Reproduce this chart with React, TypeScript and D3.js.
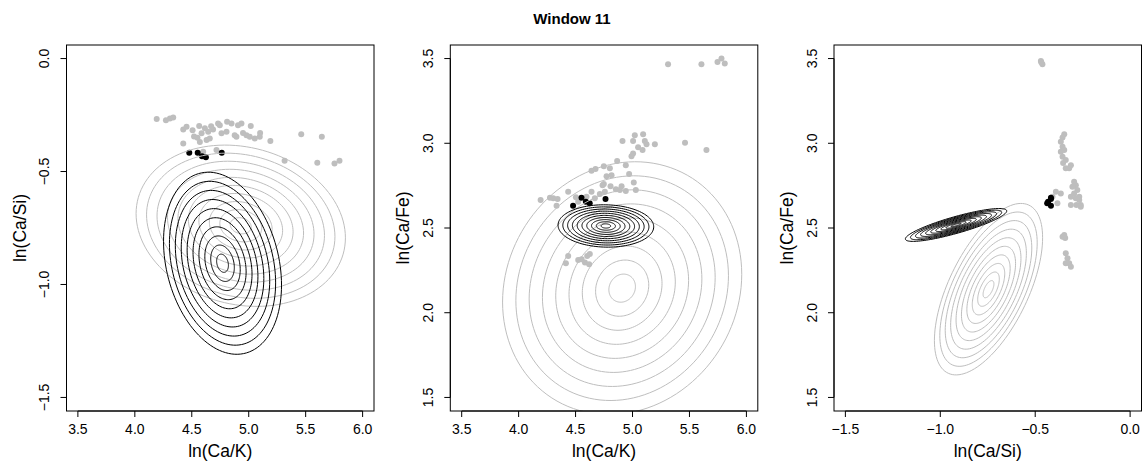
import React from "react";
import * as d3 from "d3";

// ---------- DATA ----------
const title = "Window 11";

// limits before R's 4% expansion
const limK = [3.5, 6.0];
const limSi = [-1.5, 0.0];
const limFe = [1.5, 3.5];

const ticksK = [3.5, 4.0, 4.5, 5.0, 5.5, 6.0];
const ticksSi = [-1.5, -1.0, -0.5, 0.0];
const ticksFe = [1.5, 2.0, 2.5, 3.0, 3.5];

// black (current window) observations
const blackK = [4.478, 4.552, 4.59, 4.624, 4.763];
const blackSi = [-0.417, -0.417, -0.432, -0.437, -0.417];
const blackFe = [2.631, 2.679, 2.655, 2.646, 2.671];

// grey observations, panel 1: ln(Ca/K) vs ln(Ca/Si)
const grayKSi: [number, number][] = [
  [4.192, -0.268], [4.273, -0.273], [4.308, -0.265], [4.337, -0.261], [4.425, -0.314],
  [4.454, -0.302], [4.507, -0.317], [4.565, -0.299], [4.615, -0.309], [4.586, -0.331],
  [4.644, -0.324], [4.658, -0.354], [4.63, -0.361], [4.571, -0.369], [4.425, -0.376],
  [4.687, -0.314], [4.731, -0.287], [4.746, -0.295], [4.761, -0.331], [4.81, -0.28],
  [4.805, -0.324], [4.849, -0.287], [4.877, -0.339], [4.906, -0.295], [4.936, -0.287],
  [4.892, -0.346], [4.98, -0.339], [5.009, -0.346], [5.018, -0.299], [5.053, -0.354],
  [5.097, -0.346], [5.19, -0.365], [4.717, -0.405], [4.6, -0.413], [5.315, -0.452],
  [5.461, -0.335], [5.642, -0.346], [5.602, -0.461], [5.753, -0.464], [5.797, -0.452],
  [4.52, -0.345], [4.67, -0.3], [4.95, -0.33], [5.1, -0.33], [4.55, -0.35],
];

// grey observations, panel 2: ln(Ca/K) vs ln(Ca/Fe)
const grayKFe: [number, number][] = [
  [5.312, 3.466], [5.605, 3.466], [5.746, 3.48], [5.781, 3.5], [5.81, 3.471],
  [4.912, 3.014], [5.02, 3.048], [5.093, 3.054], [5.005, 3.014], [5.108, 3.014],
  [5.123, 2.995], [5.196, 2.995], [5.049, 2.976], [5.088, 2.96], [5.005, 2.94],
  [4.991, 2.924], [5.461, 3.003], [5.649, 2.96], [4.865, 2.895], [4.941, 2.871],
  [4.64, 2.838], [4.675, 2.848], [4.748, 2.865], [4.801, 2.852], [4.97, 2.818],
  [4.772, 2.806], [4.816, 2.812], [5.011, 2.769], [4.737, 2.753], [4.748, 2.759],
  [4.807, 2.747], [4.904, 2.747], [4.854, 2.728], [4.889, 2.724], [4.941, 2.718],
  [5.029, 2.724], [4.435, 2.714], [4.193, 2.665], [4.275, 2.679], [4.304, 2.675],
  [4.342, 2.671], [4.333, 2.631], [4.503, 2.681], [4.596, 2.684], [4.64, 2.714],
  [4.669, 2.675], [4.713, 2.7], [4.757, 2.714], [4.523, 2.655], [4.435, 2.335],
  [4.415, 2.292], [4.523, 2.311], [4.553, 2.316], [4.602, 2.335], [4.625, 2.347],
  [4.582, 2.296], [4.619, 2.286],
];

// grey observations, panel 3: ln(Ca/Si) vs ln(Ca/Fe)
const graySiFe: [number, number][] = [
  [-0.47, 3.486], [-0.462, 3.466], [-0.468, 3.478], [-0.347, 3.054], [-0.356, 3.034],
  [-0.365, 3.009], [-0.356, 2.979], [-0.365, 2.95], [-0.347, 2.96], [-0.356, 2.92],
  [-0.339, 2.901], [-0.312, 2.871], [-0.321, 2.852], [-0.339, 2.852], [-0.353, 2.883],
  [-0.295, 2.773], [-0.286, 2.753], [-0.304, 2.743], [-0.278, 2.724], [-0.295, 2.704],
  [-0.268, 2.684], [-0.286, 2.675], [-0.312, 2.684], [-0.312, 2.636], [-0.283, 2.636],
  [-0.26, 2.636], [-0.409, 2.684], [-0.391, 2.714], [-0.365, 2.704], [-0.383, 2.646],
  [-0.347, 2.459], [-0.356, 2.449], [-0.342, 2.441], [-0.339, 2.351], [-0.33, 2.321],
  [-0.321, 2.292], [-0.339, 2.292], [-0.312, 2.272], [-0.268, 2.665], [-0.26, 2.625],
];

// contour ellipses: centre, outer half-extents (x, y), correlation, number of rings
type Ell = { cx: number; cy: number; sx: number; sy: number; rho: number; n: number };
const ellGrayKSi: Ell = { cx: 4.93, cy: -0.74, sx: 0.919, sy: 0.357, rho: -0.15, n: 10 };
const ellBlackKSi: Ell = { cx: 4.77, cy: -0.906, sx: 0.518, sy: 0.403, rho: -0.24, n: 10 };
const ellGrayKFe: Ell = { cx: 4.909, cy: 2.145, sx: 1.05, sy: 0.746, rho: 0.11, n: 9 };
const ellBlackKFe: Ell = { cx: 4.766, cy: 2.512, sx: 0.42, sy: 0.125, rho: -0.04, n: 10 };
const ellGraySiFe: Ell = { cx: -0.746, cy: 2.139, sx: 0.285, sy: 0.506, rho: 0.6, n: 10 };
const ellBlackSiFe: Ell = { cx: -0.917, cy: 2.518, sx: 0.267, sy: 0.097, rho: 0.85, n: 10 };

// ---------- LAYOUT ----------
const W = 1144;
const H = 461;
const PTOP = 45;
const PH = 366;
const PW = 307.5;
const lefts = [66.5, 450.3, 834];
const FONT = "'Liberation Sans', Arial, Helvetica, sans-serif";
const GRAY = "#bebebe";

const expand = (l: number[]) => {
  const r = l[1] - l[0];
  return [l[0] - 0.04 * r, l[1] + 0.04 * r];
};
const fmt = (v: number) => d3.format(".1f")(v).replace("-", "\u2212");

type PanelDef = {
  left: number;
  xlim: number[];
  ylim: number[];
  xticks: number[];
  yticks: number[];
  xlab: string;
  ylab: string;
  gray: [number, number][];
  bx: number[];
  by: number[];
  eg: Ell;
  eb: Ell;
};

const panels: PanelDef[] = [
  { left: lefts[0], xlim: limK, ylim: limSi, xticks: ticksK, yticks: ticksSi, xlab: "ln(Ca/K)", ylab: "ln(Ca/Si)",
    gray: grayKSi, bx: blackK, by: blackSi, eg: ellGrayKSi, eb: ellBlackKSi },
  { left: lefts[1], xlim: limK, ylim: limFe, xticks: ticksK, yticks: ticksFe, xlab: "ln(Ca/K)", ylab: "ln(Ca/Fe)",
    gray: grayKFe, bx: blackK, by: blackFe, eg: ellGrayKFe, eb: ellBlackKFe },
  { left: lefts[2], xlim: limSi, ylim: limFe, xticks: ticksSi, yticks: ticksFe, xlab: "ln(Ca/Si)", ylab: "ln(Ca/Fe)",
    gray: graySiFe, bx: blackSi, by: blackFe, eg: ellGraySiFe, eb: ellBlackSiFe },
];

const angles = d3.range(0, 360, 3).map((d) => (d * Math.PI) / 180);

function ringPaths(e: Ell, x: d3.ScaleLinear<number, number>, y: d3.ScaleLinear<number, number>) {
  const out: string[] = [];
  const q = Math.sqrt(1 - e.rho * e.rho);
  for (let k = 1; k <= e.n; k++) {
    const m = k / e.n;
    const gen = d3.line<number>()
      .x((t) => x(e.cx + m * e.sx * Math.cos(t)))
      .y((t) => y(e.cy + m * e.sy * (e.rho * Math.cos(t) + q * Math.sin(t))))
      .curve(d3.curveLinearClosed);
    out.push(gen(angles) || "");
  }
  return out;
}

function Panel({ p, i }: { p: PanelDef; i: number }) {
  const x = d3.scaleLinear().domain(expand(p.xlim)).range([p.left, p.left + PW]);
  const y = d3.scaleLinear().domain(expand(p.ylim)).range([PTOP + PH, PTOP]);
  const bottom = PTOP + PH;
  const clipId = `clip${i}`;
  const cxm = p.left + PW / 2;
  const cym = PTOP + PH / 2;
  return (
    <g>
      <defs>
        <clipPath id={clipId}>
          <rect x={p.left} y={PTOP} width={PW} height={PH} />
        </clipPath>
      </defs>
      <g clipPath={`url(#${clipId})`}>
        {p.gray.map((d, j) => (
          <circle key={"g" + j} cx={x(d[0])} cy={y(d[1])} r={3} fill={GRAY} />
        ))}
        {p.bx.map((v, j) => (
          <circle key={"b" + j} cx={x(v)} cy={y(p.by[j])} r={3} fill="#000" />
        ))}
        {ringPaths(p.eg, x, y).map((d, j) => (
          <path key={"eg" + j} d={d} fill="none" stroke={GRAY} strokeWidth={1} />
        ))}
        {ringPaths(p.eb, x, y).map((d, j) => (
          <path key={"eb" + j} d={d} fill="none" stroke="#000" strokeWidth={1} />
        ))}
      </g>
      <rect x={p.left} y={PTOP} width={PW} height={PH} fill="none" stroke="#000" strokeWidth={1} />
      {/* x axis */}
      <line x1={x(p.xticks[0])} x2={x(p.xticks[p.xticks.length - 1])} y1={bottom} y2={bottom} stroke="#000" />
      {p.xticks.map((t) => (
        <g key={"xt" + t}>
          <line x1={x(t)} x2={x(t)} y1={bottom} y2={bottom + 6} stroke="#000" />
          <text x={x(t)} y={bottom + 23} textAnchor="middle" fontSize={14} fontFamily={FONT}>
            {fmt(t)}
          </text>
        </g>
      ))}
      {/* y axis */}
      <line x1={p.left} x2={p.left} y1={y(p.yticks[0])} y2={y(p.yticks[p.yticks.length - 1])} stroke="#000" />
      {p.yticks.map((t) => (
        <g key={"yt" + t}>
          <line x1={p.left - 6} x2={p.left} y1={y(t)} y2={y(t)} stroke="#000" />
          <text
            transform={`translate(${p.left - 17.5},${y(t)}) rotate(-90)`}
            textAnchor="middle"
            fontSize={14}
            fontFamily={FONT}
          >
            {fmt(t)}
          </text>
        </g>
      ))}
      <text x={cxm} y={bottom + 46} textAnchor="middle" fontSize={17.5} fontFamily={FONT}>
        {p.xlab}
      </text>
      <text transform={`translate(${p.left - 41},${cym}) rotate(-90)`} textAnchor="middle" fontSize={17.5} fontFamily={FONT}>
        {p.ylab}
      </text>
    </g>
  );
}

export default function App() {
  return (
    <svg width={W} height={H} style={{ position: "absolute", left: 0, top: 0, background: "#fff" }}>
      <rect x={0} y={0} width={W} height={H} fill="#fff" />
      <text x={572} y={24} textAnchor="middle" fontSize={15} fontWeight="bold" fontFamily={FONT}>
        {title}
      </text>
      {panels.map((p, i) => (
        <Panel key={i} p={p} i={i} />
      ))}
    </svg>
  );
}
